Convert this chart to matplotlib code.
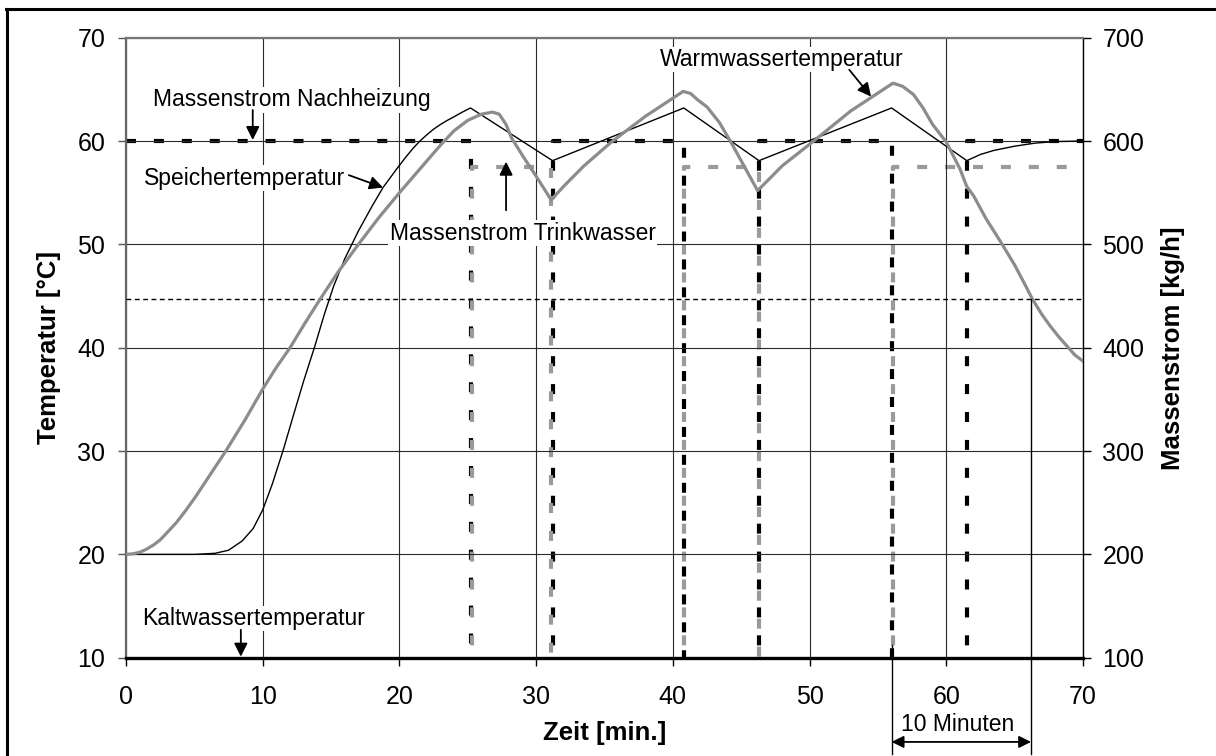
import matplotlib

matplotlib.use("Agg")
import matplotlib.pyplot as plt
from matplotlib.lines import Line2D

plt.rcParams["font.family"] = ["Liberation Sans", "DejaVu Sans"]

# Speichertemperatur (black thin line)
speicher_t = [0, 5, 6.5, 7.5, 8.5, 9.3, 10.0, 10.7, 11.5, 12.3, 13.0, 13.8, 14.5,
              15.2, 16.0, 17.0, 18.0, 18.8, 19.8, 20.5, 21.0, 21.5, 22.0, 22.5, 23.0,
              23.5, 24.0, 24.6, 25.2, 31.2, 40.8, 46.3, 56.0, 61.5, 62.5, 63.5, 65.0,
              66.5, 68.0, 70.0]
speicher_T = [20, 20, 20.1, 20.4, 21.3, 22.5, 24.3, 26.8, 30.1, 33.7, 36.8, 40.1, 43.2,
              46.0, 48.6, 51.3, 53.7, 55.5, 57.3, 58.5, 59.3, 60.0, 60.6, 61.15, 61.6,
              62.0, 62.35, 62.8, 63.2, 58.1, 63.2, 58.1, 63.2, 58.1, 58.7, 59.1, 59.5,
              59.8, 59.95, 60.0]

# Warmwassertemperatur (grey thick line)
warm_t = [0, 0.5, 1, 1.5, 2, 2.5, 3, 3.7, 4.4, 5.1, 5.8, 7.3, 8.7, 10.0, 11.0, 12.0,
          13.1, 14.2, 15.5, 17.0, 18.5, 20.0, 21.5, 23.0, 24.0, 25.0, 26.0, 26.8,
          27.3, 27.8, 28.2, 29.0, 30.0, 31.1, 32.0, 33.5, 35.5, 38.0, 40.75, 41.3,
          41.8, 42.5, 43.4, 44.2, 45.2, 46.2, 48.0, 50.3, 53.0, 56.1, 56.8, 57.6,
          58.3, 59.0, 60.0, 61.0, 61.5, 62.0, 62.9, 64.0, 65.0, 65.8, 66.3, 67.0,
          67.6, 68.2, 68.8, 69.4, 70.0]
warm_T = [20, 20.05, 20.2, 20.5, 20.9, 21.4, 22.1, 23.1, 24.3, 25.6, 27.0, 30.0, 33.0,
          36.0, 38.1, 40.0, 42.4, 44.7, 47.3, 50.0, 52.6, 55.0, 57.3, 59.6, 61.0,
          62.0, 62.6, 62.8, 62.6, 61.6, 60.3, 58.6, 56.6, 54.3, 55.6, 57.6, 59.9,
          62.4, 64.8, 64.6, 64.0, 63.3, 61.8, 60.0, 57.6, 55.2, 57.6, 60.0, 62.9,
          65.6, 65.3, 64.5, 63.2, 61.6, 59.9, 57.3, 55.6, 54.7, 52.5, 50.2, 48.0,
          46.0, 44.7, 43.2, 42.1, 41.1, 40.2, 39.3, 38.7]

# Kaltwassertemperatur and threshold
kalt_t = [0, 70]
kalt_T = [10, 10]
schwelle_t = [0, 70]
schwelle_T = [44.7, 44.7]

# Massenströme (right axis, kg/h)
heiz_t = [0, 25.2, 25.2, 31.2, 31.2, 40.8, 40.8, 46.3, 46.3, 56.0, 56.0, 61.5, 61.5, 70]
heiz_m = [600, 600, 0, 0, 600, 600, 0, 0, 600, 600, 0, 0, 600, 600]
trink_t = [0, 25.3, 25.3, 31.1, 31.1, 40.8, 40.8, 46.3, 46.3, 56.1, 56.1, 70]
trink_m = [0, 0, 575, 575, 0, 0, 575, 575, 0, 0, 575, 575]

x_ticks = [0, 10, 20, 30, 40, 50, 60, 70]
t_ticks = [10, 20, 30, 40, 50, 60, 70]
m_ticks = [100, 200, 300, 400, 500, 600, 700]

BLACK = "#000000"
GREY = "#8c8c8c"
LGREY = "#9a9a9a"

fig = plt.figure(figsize=(12.16, 7.56), dpi=100, facecolor="white")
ax = fig.add_axes([126 / 1216, 1 - 657.7 / 756, 957 / 1216, 620 / 756])
ax2 = ax.twinx()
ax.set_zorder(ax2.get_zorder() + 1)
ax.patch.set_visible(False)

# mass flows (drawn underneath)
ax2.plot(heiz_t, heiz_m, color=BLACK, lw=3.0, dashes=(2.4, 4.3))
ax2.plot(trink_t, trink_m, color=LGREY, lw=3.0, dashes=(2.4, 4.3))
ax2.set_ylim(100, 700)
ax2.set_yticks(m_ticks)
ax2.tick_params(axis="y", direction="out", length=6, width=1, pad=8, labelsize=18, colors=BLACK)
ax2.set_ylabel("Massenstrom [kg/h]", fontsize=18.5, fontweight="bold")
ax2.yaxis.set_label_coords(1.081, 0.5)
for s in ("left", "top", "bottom"):
    ax2.spines[s].set_visible(False)
ax2.spines["right"].set_linewidth(1.0)

# temperatures
ax.set_xlim(0, 70)
ax.set_ylim(10, 70)
ax.set_xticks(x_ticks)
ax.set_yticks(t_ticks)
ax.grid(True, color="#2a2a2a", lw=0.8)
ax.set_axisbelow(True)
ax.plot(schwelle_t, schwelle_T, color=BLACK, lw=1.0, dashes=(3.5, 2.5), zorder=3)
ax.plot(speicher_t, speicher_T, color=BLACK, lw=1.0, zorder=4)
ax.plot(warm_t, warm_T, color=GREY, lw=2.3, zorder=4)
ax.plot(kalt_t, kalt_T, color=BLACK, lw=2.4, zorder=5, clip_on=False)

ax.tick_params(axis="both", direction="out", length=6, width=1, labelsize=18)
ax.tick_params(axis="y", pad=9, colors="#555555", labelcolor=BLACK)
ax.tick_params(axis="x", pad=14, colors=BLACK)
ax.set_xlabel("Zeit [min.]", fontsize=18.5, fontweight="bold")
ax.xaxis.set_label_coords(0.5, -0.102)
ax.set_ylabel("Temperatur [°C]", fontsize=18.5, fontweight="bold")
ax.yaxis.set_label_coords(-0.068, 0.5)
ax.spines["left"].set_color("#666666")
ax.spines["left"].set_linewidth(1.6)
ax.spines["top"].set_color("#777777")
ax.spines["top"].set_linewidth(1.6)
ax.spines["right"].set_visible(False)
ax.spines["bottom"].set_color(BLACK)

# annotations
box = dict(facecolor="white", edgecolor="none", pad=1)
arrow = dict(arrowstyle="-|>", color=BLACK, lw=1.3, mutation_scale=20, shrinkA=0, shrinkB=0)
fs = 16.5

ax.text(2.0, 64.0, "Massenstrom Nachheizung", fontsize=fs, va="center", ha="left", bbox=box, zorder=10)
ax.annotate("", xy=(9.27, 60.1), xytext=(9.27, 63.0), arrowprops=arrow, zorder=11)

ax.text(1.3, 56.4, "Speichertemperatur", fontsize=fs, va="center", ha="left", bbox=box, zorder=10)
ax.annotate("", xy=(18.8, 55.5), xytext=(16.3, 56.7), arrowprops=arrow, zorder=11)

ax.text(19.3, 51.1, "Massenstrom Trinkwasser", fontsize=fs, va="center", ha="left", bbox=box, zorder=10)
ax.annotate("", xy=(27.8, 58.0), xytext=(27.8, 53.3), arrowprops=arrow, zorder=11)

ax.text(48.0, 67.9, "Warmwassertemperatur", fontsize=fs, va="center", ha="center", bbox=box, zorder=10)
ax.annotate("", xy=(54.5, 64.3), xytext=(52.9, 66.9), arrowprops=arrow, zorder=11)

ax.text(1.2, 13.8, "Kaltwassertemperatur", fontsize=fs, va="center", ha="left", bbox=box, zorder=10)
ax.annotate("", xy=(8.4, 10.1), xytext=(8.4, 12.7), arrowprops=arrow, zorder=11)

# 10 Minuten marker
ax.plot([56.0, 56.0], [11.2, 0.7], color=BLACK, lw=1.0, clip_on=False, zorder=6)
ax.plot([66.2, 66.2], [44.7, 0.7], color=BLACK, lw=1.0, clip_on=False, zorder=6)
ax.annotate("", xy=(56.0, 1.85), xytext=(66.2, 1.85), annotation_clip=False,
            arrowprops=dict(arrowstyle="<|-|>", color=BLACK, lw=1.3, mutation_scale=18,
                            shrinkA=0, shrinkB=0), zorder=11)
ax.text(60.8, 3.5, "10 Minuten", fontsize=fs, va="center", ha="center", clip_on=False, zorder=10)

# outer frame (left and top edges)
fig.add_artist(Line2D([7 / 1216, 7 / 1216], [0, 1 - 9 / 756], color=BLACK, lw=2.2,
                      transform=fig.transFigure))
fig.add_artist(Line2D([6 / 1216, 1], [1 - 9 / 756, 1 - 9 / 756], color=BLACK, lw=2.2,
                      transform=fig.transFigure))

fig.savefig("out.png", dpi=100, facecolor="white")
